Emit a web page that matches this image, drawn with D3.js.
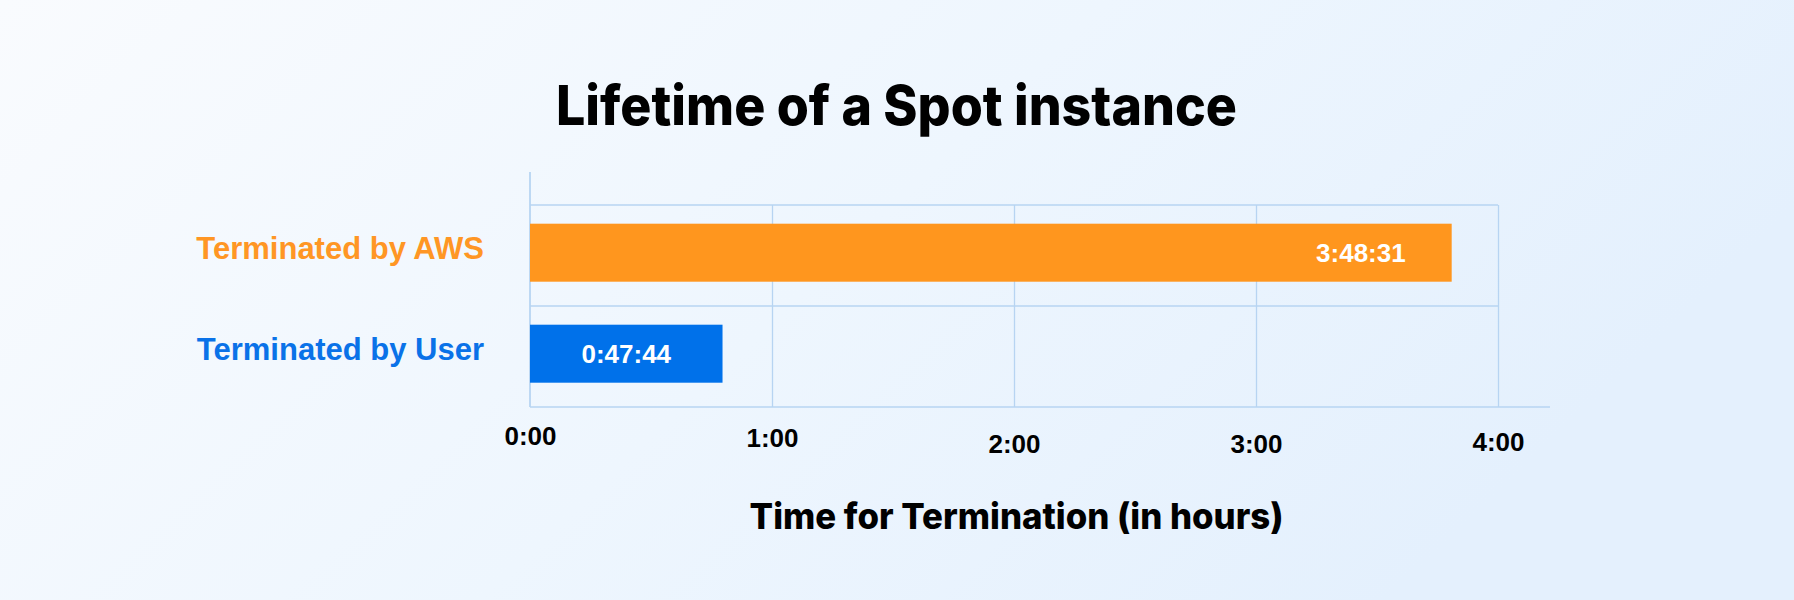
<!DOCTYPE html>
<html>
<head>
<meta charset="utf-8">
<script src="https://cdn.jsdelivr.net/npm/d3@7"></script>
<style>
  html, body { margin: 0; padding: 0; }
  body { width: 1794px; height: 600px; overflow: hidden; }
  svg { display: block; }
</style>
</head>
<body>
<svg id="chart" width="1794" height="600"></svg>
<script>
// ---- data ----
const categories = ["Terminated by AWS", "Terminated by User"];
const durations = ["3:48:31", "0:47:44"];          // h:mm:ss
const tickValues = [0, 1, 2, 3, 4];                 // hours
const tickLabels = ["0:00", "1:00", "2:00", "3:00", "4:00"];
const titleText = "Lifetime of a Spot instance";
const xTitleText = "Time for Termination (in hours)";

// ---- styles ----
const barColors = ["#FF961E", "#0071EA"];
const labelColors = ["#FF9624", "#0A72E8"];
const gridColor = "#B7D4F2";
const tickNudge = [0, 1.5, 8, 8, 6];

const toHours = s => { const [h, m, sec] = s.split(":").map(Number); return h + m / 60 + sec / 3600; };
const values = durations.map(toHours);

const W = 1794, H = 600;
const svg = d3.select("#chart");

// background gradient
const defs = svg.append("defs");
const grad = defs.append("linearGradient").attr("id", "bg")
  .attr("x1", "0").attr("y1", "0").attr("x2", "1").attr("y2", "0.35");
grad.append("stop").attr("offset", "0%").attr("stop-color", "#F9FBFE");
grad.append("stop").attr("offset", "55%").attr("stop-color", "#EEF6FE");
grad.append("stop").attr("offset", "100%").attr("stop-color", "#E4F0FD");
svg.append("rect").attr("width", W).attr("height", H).attr("fill", "url(#bg)");

// scales
const x = d3.scaleLinear().domain([0, 4]).range([530, 1498]);
const y = d3.scaleBand().domain(categories).range([205, 407]).padding(0);
const barPadTop = 18.7, barH = 58;

// grid lines (vertical)
const grid = svg.append("g").attr("transform", `translate(0,${y.range()[1]})`)
  .call(d3.axisBottom(x).tickValues(tickValues.slice(1)).tickSize(-(y.range()[1] - y.range()[0])).tickFormat(""));
grid.select(".domain").remove();
grid.selectAll(".tick line").attr("stroke", gridColor).attr("stroke-width", 1.3);

// horizontal band lines
svg.append("g").selectAll("line")
  .data(categories)
  .join("line")
  .attr("x1", x(0)).attr("x2", x(4))
  .attr("y1", d => y(d)).attr("y2", d => y(d))
  .attr("stroke", gridColor).attr("stroke-width", 1.5);

// bottom axis line
svg.append("line")
  .attr("x1", x(0)).attr("x2", x(4) + 52)
  .attr("y1", y.range()[1]).attr("y2", y.range()[1])
  .attr("stroke", gridColor).attr("stroke-width", 1.5);

// left axis line
svg.append("line")
  .attr("x1", x(0)).attr("x2", x(0))
  .attr("y1", y.range()[0] - 33).attr("y2", y.range()[1])
  .attr("stroke", gridColor).attr("stroke-width", 1.8);

// bars
svg.append("g").selectAll("rect")
  .data(categories)
  .join("rect")
  .attr("x", x(0))
  .attr("y", d => y(d) + barPadTop)
  .attr("width", (d, i) => x(values[i]) - x(0))
  .attr("height", barH)
  .attr("fill", (d, i) => barColors[i]);

// value labels
svg.append("g").selectAll("text")
  .data(categories)
  .join("text")
  .attr("x", (d, i) => { const w = x(values[i]) - x(0); return w > 300 ? x(values[i]) - 46 : x(0) + w / 2; })
  .attr("text-anchor", (d, i) => (x(values[i]) - x(0) > 300 ? "end" : "middle"))
  .attr("y", d => y(d) + barPadTop + barH / 2 + 9.5)
  .attr("fill", "#FFFFFF")
  .attr("font-family", "'Liberation Sans', Arial, sans-serif")
  .attr("font-weight", 700)
  .attr("font-size", 26)
  .text((d, i) => durations[i]);

// category labels
svg.append("g").selectAll("text")
  .data(categories)
  .join("text")
  .attr("x", 484)
  .attr("y", d => y(d) + barPadTop + barH / 2 + 6.5)
  .attr("text-anchor", "end")
  .attr("fill", (d, i) => labelColors[i])
  .attr("font-family", "'Liberation Sans', Arial, sans-serif")
  .attr("font-weight", 700)
  .attr("font-size", 31)
  .text(d => d);

// tick labels
const ax = svg.append("g").attr("transform", `translate(0,${y.range()[1]})`)
  .call(d3.axisBottom(x).tickValues(tickValues).tickSize(0).tickFormat((d, i) => tickLabels[i]));
ax.select(".domain").remove();
ax.selectAll(".tick text")
  .attr("y", 0).attr("dy", null)
  .attr("transform", (d, i) => `translate(0,${38 + tickNudge[i]})`)
  .attr("fill", "#000")
  .attr("font-family", "'Liberation Sans', Arial, sans-serif")
  .attr("font-weight", 700)
  .attr("font-size", 26);

// title
svg.append("text")
  .attr("x", 896.5).attr("y", 125)
  .attr("text-anchor", "middle")
  .attr("font-family", "Inter, 'Noto Sans', sans-serif")
  .attr("font-weight", 800)
  .attr("font-size", 55)
  .attr("textLength", 681).attr("lengthAdjust", "spacingAndGlyphs")
  .attr("fill", "#000")
  .text(titleText);

// x axis title
svg.append("text")
  .attr("x", 1016.6).attr("y", 529.3)
  .attr("text-anchor", "middle")
  .attr("font-family", "Inter, 'Noto Sans', sans-serif")
  .attr("font-weight", 800)
  .attr("font-size", 36)
  .attr("textLength", 534).attr("lengthAdjust", "spacingAndGlyphs")
  .attr("fill", "#000")
  .text(xTitleText);
</script>
</body>
</html>
